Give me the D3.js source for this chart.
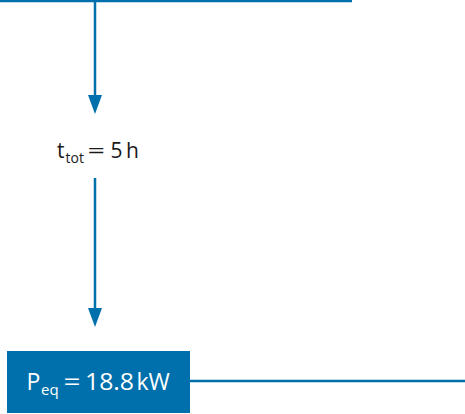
<!DOCTYPE html>
<html>
<head>
<meta charset="utf-8">
<script src="https://cdn.jsdelivr.net/npm/d3@7"></script>
<style>
  html, body { margin: 0; padding: 0; background: #fff; }
  svg { display: block; }
</style>
</head>
<body>
<svg id="chart" width="465" height="414"></svg>
<script>
// Data
const quantities = ["t", "P"];
const subscripts = ["tot", "eq"];
const values = [5, 18.8];
const units = ["h", "kW"];

const W = 465, H = 414;
const blue = "#0070ad";
const svg = d3.select("#chart");
const font = "'Open Sans', sans-serif";

// vertical layout scale (diagram stages: input line, result line)
const y = d3.scaleLinear().domain([0, 1]).range([1, 381]);
const xStem = 95;

// top incoming line
svg.append("line")
  .attr("x1", 0).attr("x2", 352)
  .attr("y1", y(0)).attr("y2", y(0))
  .attr("stroke", blue).attr("stroke-width", 2.5);

function arrow(y0, tip) {
  svg.append("line")
    .attr("x1", xStem).attr("x2", xStem)
    .attr("y1", y0).attr("y2", tip - 17)
    .attr("stroke", blue).attr("stroke-width", 2.5);
  svg.append("path")
    .attr("d", d3.line()([[xStem - 7, tip - 19], [xStem + 7, tip - 19], [xStem, tip]]) + "Z")
    .attr("fill", blue);
}

// label drawn as pieces: symbol, subscript, equals sign, value, unit
function label(s, color) {
  const g = svg.append("g");
  const txt = (x, yy, size, str, len) => {
    const t = g.append("text")
      .attr("x", x).attr("y", yy)
      .attr("font-family", font).attr("font-size", size)
      .attr("fill", color).text(str);
    if (len) t.attr("textLength", len).attr("lengthAdjust", "spacingAndGlyphs");
  };
  txt(s.x0, s.base, s.size, s.sym);
  txt(s.xSub, s.base + s.subDy, s.subSize, s.sub);
  txt(s.xEq, s.base, s.size, "=", s.eqLen);
  txt(s.xVal, s.base, s.size, s.val, s.valLen);
  txt(s.xUnit, s.base, s.size, s.unit);
}

arrow(0, 114);

label({
  sym: quantities[0], sub: subscripts[0], val: String(values[0]), unit: units[0],
  x0: 57, base: 157.5, size: 21, xSub: 65.5, subDy: 5, subSize: 14,
  xEq: 87.5, eqLen: 17.5, xVal: 110.5, xUnit: 126
}, "#1a1a1a");

arrow(178, 327);

// result box
svg.append("rect")
  .attr("x", 7).attr("y", 351)
  .attr("width", 183).attr("height", 62)
  .attr("fill", blue);

label({
  sym: quantities[1], sub: subscripts[1], val: values[1].toFixed(1), unit: units[1],
  x0: 26.5, base: 389.5, size: 23, xSub: 41, subDy: 5.5, subSize: 15,
  xEq: 63.5, eqLen: 17, xVal: 85, valLen: 49, xUnit: 136.5
}, "#fff");

// outgoing line
svg.append("line")
  .attr("x1", 190).attr("x2", W)
  .attr("y1", y(1)).attr("y2", y(1))
  .attr("stroke", blue).attr("stroke-width", 2.5);
</script>
</body>
</html>
